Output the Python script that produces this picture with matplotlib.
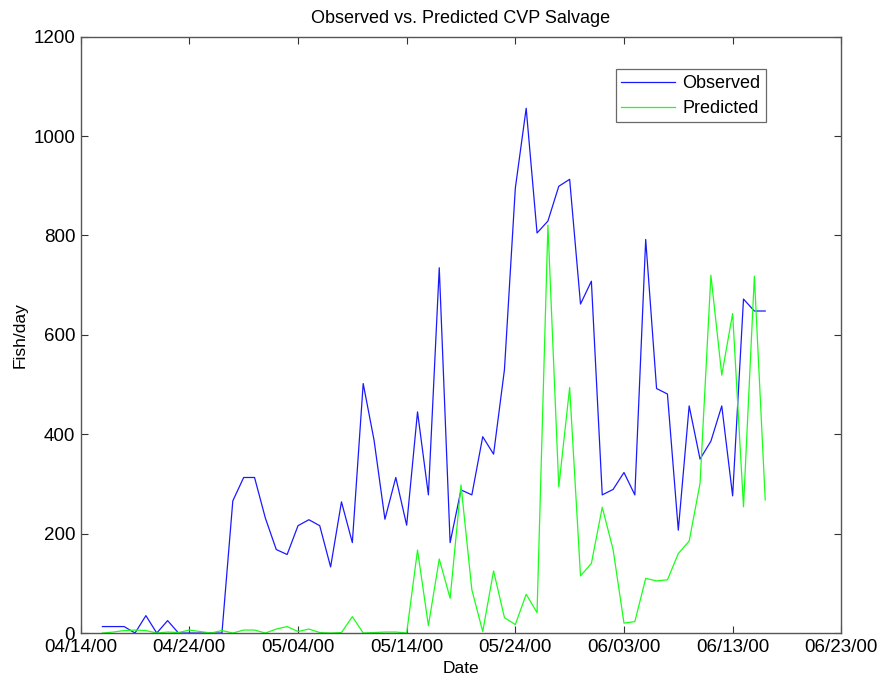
import matplotlib
matplotlib.use("Agg")
import matplotlib.pyplot as plt
import matplotlib.dates as mdates
import pandas as pd

plt.rcParams['font.family'] = ['Liberation Sans', 'DejaVu Sans']

# Daily salvage counts, one value per day starting 04/16/2000
start_date = "2000-04-16"
observed = [13, 13, 13, 0, 35, 0, 25, 0, 0, 0, 0, 0, 266, 313, 313, 231,
            168, 158, 216, 228, 216, 133, 264, 182, 502, 388, 229, 313, 217,
            445, 278, 735, 182, 288, 278, 395, 360, 530, 895, 1056, 805, 829,
            899, 913, 662, 708, 278, 289, 323, 278, 792, 492, 481, 207, 457,
            350, 386, 457, 276, 672, 648, 648]
predicted = [0, 2, 5, 6, 5, 0, 2, 1, 6, 3, 0, 5, 0, 6, 6, 0, 8, 13, 3, 8,
             1, 0, 1, 33, 0, 1, 2, 2, 0, 167, 15, 149, 70, 298, 87, 3, 125,
             31, 17, 78, 41, 821, 294, 494, 115, 140, 253, 168, 20, 23, 110,
             105, 107, 160, 185, 301, 720, 519, 643, 254, 718, 268]
dates = pd.date_range(start_date, periods=len(observed), freq="D")

x_start, x_end = "2000-04-14", "2000-06-23"
y_ticks = [0, 200, 400, 600, 800, 1000, 1200]

fig = plt.figure(figsize=(8.8, 6.82), dpi=100)
ax = fig.add_axes([0.0917, 0.0718, 0.8643, 0.8744])

ax.plot(dates, observed, color=(0.1, 0.1, 1.0), lw=0.9, label="Observed")
ax.plot(dates, predicted, color=(0.1, 1.0, 0.1), lw=0.9, label="Predicted")

ax.set_xlim(pd.Timestamp(x_start), pd.Timestamp(x_end))
ax.set_ylim(0, 1200)
ax.set_yticks(y_ticks)
ax.set_xticks(pd.date_range(x_start, x_end, freq="10D"))
ax.xaxis.set_major_formatter(mdates.DateFormatter("%m/%d/%y"))

for s in ax.spines.values():
    s.set_color("#555555")
    s.set_linewidth(1.0)
ax.tick_params(direction="in", top=True, right=True, length=5, width=0.8,
               color="#333333", labelsize=13.5, pad=4)

ax.set_title("Observed vs. Predicted CVP Salvage", fontsize=13, pad=10)
ax.set_xlabel("Date", fontsize=12.5, labelpad=4)
ax.set_ylabel("Fish/day", fontsize=12.5, labelpad=4)

leg = ax.legend(loc="upper right", bbox_to_anchor=(0.901, 0.945), fontsize=13,
                frameon=True, fancybox=False, handlelength=3.0,
                handletextpad=0.4, borderpad=0.3, labelspacing=0.45,
                borderaxespad=0)
leg.get_frame().set_edgecolor("#444444")
leg.get_frame().set_linewidth(0.9)

fig.savefig("out.png", dpi=100)
